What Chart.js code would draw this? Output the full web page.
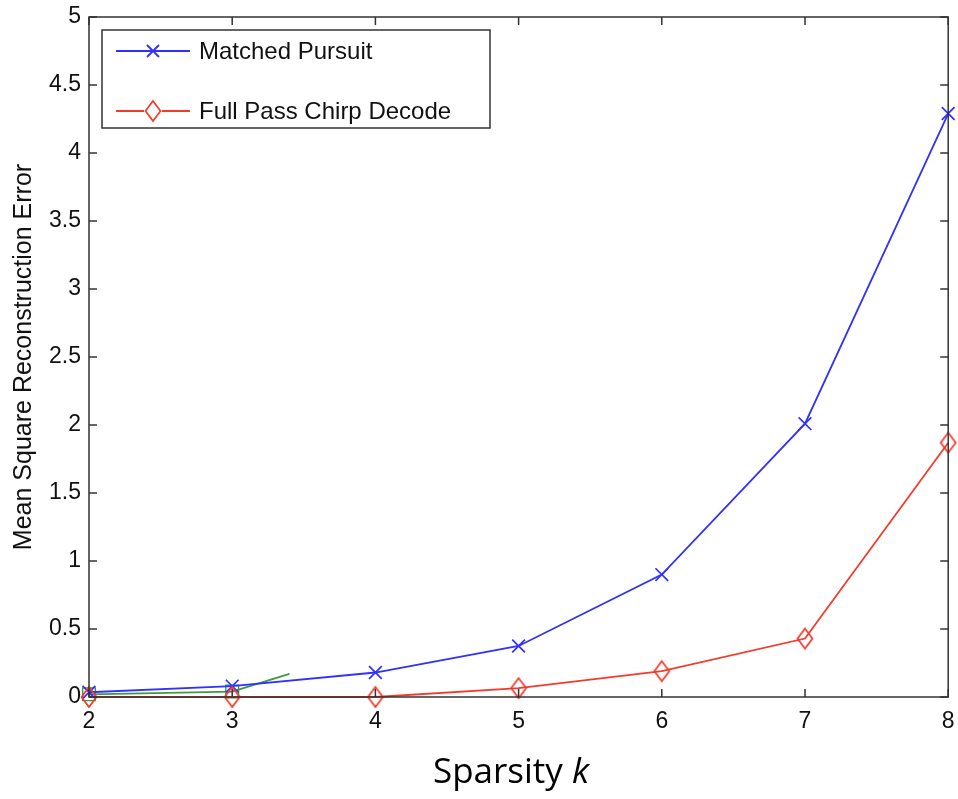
<!DOCTYPE html>
<html>
<head>
<meta charset="utf-8">
<script src="https://cdn.jsdelivr.net/npm/chart.js@4/dist/chart.umd.min.js"></script>
<style>
    body { margin: 0; background: #fff; overflow: hidden; }
    #wrap { position: relative; width: 958px; height: 799px; overflow: hidden; }
    #xTitle {
        position: absolute; left: 433px; top: 752px;
        font-family: "Open Sans", sans-serif; font-size: 35px; line-height: 1;
        color: #000; white-space: nowrap;
    }
</style>
</head>
<body>
<div id="wrap">
    <canvas id="graphique" width="960" height="799"></canvas>
    <div id="xTitle">Sparsity <i>k</i></div>
</div>
<script>
// valeurs
const sparsite = [2, 3, 4, 5, 6, 7, 8];
const matchedPursuit = [0.035, 0.08, 0.18, 0.375, 0.9, 2.01, 4.29];
const chirpDecode = [0, 0, 0, 0.065, 0.19, 0.43, 1.87];
const vertX = [2, 3, 3.4];
const vertY = [0.02, 0.04, 0.17];

const xTicks = [2, 3, 4, 5, 6, 7, 8];
const yTicks = [0, 0.5, 1, 1.5, 2, 2.5, 3, 3.5, 4, 4.5, 5];
const yTickLabels = ["0", "0.5", "1", "1.5", "2", "2.5", "3", "3.5", "4", "4.5", "5"];
const legendLabels = ["Matched Pursuit", "Full Pass Chirp Decode"];

const BLEU = "#3030ff";
const ROUGE = "#f53a2c";
const VERT = "#3e9a3e";
const POLICE = "'Liberation Sans', Arial, sans-serif";

function points(xs, ys) {
    return xs.map((x, i) => ({ x: x, y: ys[i] }));
}

// losange un peu plus haut que large, comme dans matlab
function faireLosange(couleur) {
    const c = document.createElement("canvas");
    c.width = 18;
    c.height = 24;
    const g = c.getContext("2d");
    g.strokeStyle = couleur;
    g.lineWidth = 1.7;
    g.beginPath();
    g.moveTo(9, 2);
    g.lineTo(16.5, 12);
    g.lineTo(9, 22);
    g.lineTo(1.5, 12);
    g.closePath();
    g.stroke();
    return c;
}
const losange = faireLosange(ROUGE);

const cadrePlugin = {
    id: "cadre",
    afterDatasetsDraw(chart) {
        const ctx = chart.ctx;
        const a = chart.chartArea;
        const sx = chart.scales.x;
        const sy = chart.scales.y;
        ctx.save();
        ctx.strokeStyle = "#333";
        ctx.lineWidth = 1.5;
        ctx.strokeRect(a.left, a.top, a.right - a.left, a.bottom - a.top);
        ctx.beginPath();
        xTicks.forEach(v => {
            const px = sx.getPixelForValue(v);
            ctx.moveTo(px, a.bottom);
            ctx.lineTo(px, a.bottom - 8);
            ctx.moveTo(px, a.top);
            ctx.lineTo(px, a.top + 8);
        });
        yTicks.forEach(v => {
            const py = sy.getPixelForValue(v);
            ctx.moveTo(a.left, py);
            ctx.lineTo(a.left + 8, py);
            ctx.moveTo(a.right, py);
            ctx.lineTo(a.right - 8, py);
        });
        ctx.stroke();

        // legende
        ctx.fillStyle = "#fff";
        ctx.fillRect(102, 30, 388, 98);
        ctx.strokeStyle = "#333";
        ctx.strokeRect(102, 30, 388, 98);

        const lignes = [51, 111];
        ctx.lineWidth = 1.8;
        ctx.strokeStyle = BLEU;
        ctx.beginPath();
        ctx.moveTo(116, lignes[0]);
        ctx.lineTo(190, lignes[0]);
        ctx.moveTo(147, lignes[0] - 6);
        ctx.lineTo(159, lignes[0] + 6);
        ctx.moveTo(159, lignes[0] - 6);
        ctx.lineTo(147, lignes[0] + 6);
        ctx.stroke();
        ctx.strokeStyle = ROUGE;
        ctx.beginPath();
        ctx.moveTo(116, lignes[1]);
        ctx.lineTo(144, lignes[1]);
        ctx.moveTo(162, lignes[1]);
        ctx.lineTo(190, lignes[1]);
        ctx.stroke();
        ctx.drawImage(losange, 153 - 9, lignes[1] - 12);

        ctx.fillStyle = "#111";
        ctx.font = "24px " + POLICE;
        ctx.textBaseline = "alphabetic";
        ctx.fillText(legendLabels[0], 199, 59);
        ctx.fillText(legendLabels[1], 199, 119);
        ctx.restore();
    }
};

const ctx = document.getElementById("graphique");
new Chart(ctx, {
    type: "line",
    data: {
        datasets: [
            {
                label: legendLabels[1],
                data: points(sparsite, chirpDecode),
                borderColor: ROUGE,
                borderWidth: 1.8,
                pointStyle: losange,
                pointRadius: 10,
                tension: 0,
                clip: false
            },
            {
                label: legendLabels[0],
                data: points(sparsite, matchedPursuit),
                borderColor: BLEU,
                borderWidth: 1.8,
                pointStyle: "crossRot",
                pointRadius: 9,
                pointBorderWidth: 1.7,
                tension: 0,
                clip: false
            },
            {
                label: "",
                data: points(vertX, vertY),
                borderColor: VERT,
                borderWidth: 1.8,
                pointStyle: "rect",
                pointRadius: [9, 9, 0],
                pointBackgroundColor: "rgba(0,0,0,0)",
                pointBorderWidth: 1.4,
                tension: 0,
                clip: false
            }
        ]
    },
    plugins: [cadrePlugin],
    options: {
        responsive: false,
        animation: false,
        devicePixelRatio: 1,
        layout: {
            padding: { top: 17, right: 6, left: 0, bottom: 0 }
        },
        plugins: {
            legend: { display: false },
            tooltip: { enabled: false }
        },
        scales: {
            x: {
                type: "linear",
                min: 2,
                max: 8,
                afterBuildTicks: s => { s.ticks = xTicks.map(v => ({ value: v })); },
                afterFit: s => {
                    s.height = 102;
                    s.paddingLeft = 0;
                    s.paddingRight = 0;
                },
                grid: { display: false, drawTicks: false },
                border: { display: false },
                ticks: {
                    padding: 11,
                    color: "#111",
                    font: { family: POLICE, size: 23 },
                    maxRotation: 0,
                    callback: v => String(v)
                }
            },
            y: {
                min: 0,
                max: 5,
                afterBuildTicks: s => { s.ticks = yTicks.map(v => ({ value: v })); },
                afterFit: s => {
                    s.width = 89;
                    s.paddingTop = 0;
                    s.paddingBottom = 0;
                },
                grid: { display: false, drawTicks: false },
                border: { display: false },
                ticks: {
                    padding: 8,
                    color: "#111",
                    font: { family: POLICE, size: 23 },
                    callback: (v, i) => yTickLabels[i]
                },
                title: {
                    display: true,
                    text: "Mean Square Reconstruction Error",
                    color: "#111",
                    font: { family: POLICE, size: 25, lineHeight: 1 },
                    padding: { top: 12, bottom: 0 }
                }
            }
        }
    }
});
</script>
</body>
</html>
